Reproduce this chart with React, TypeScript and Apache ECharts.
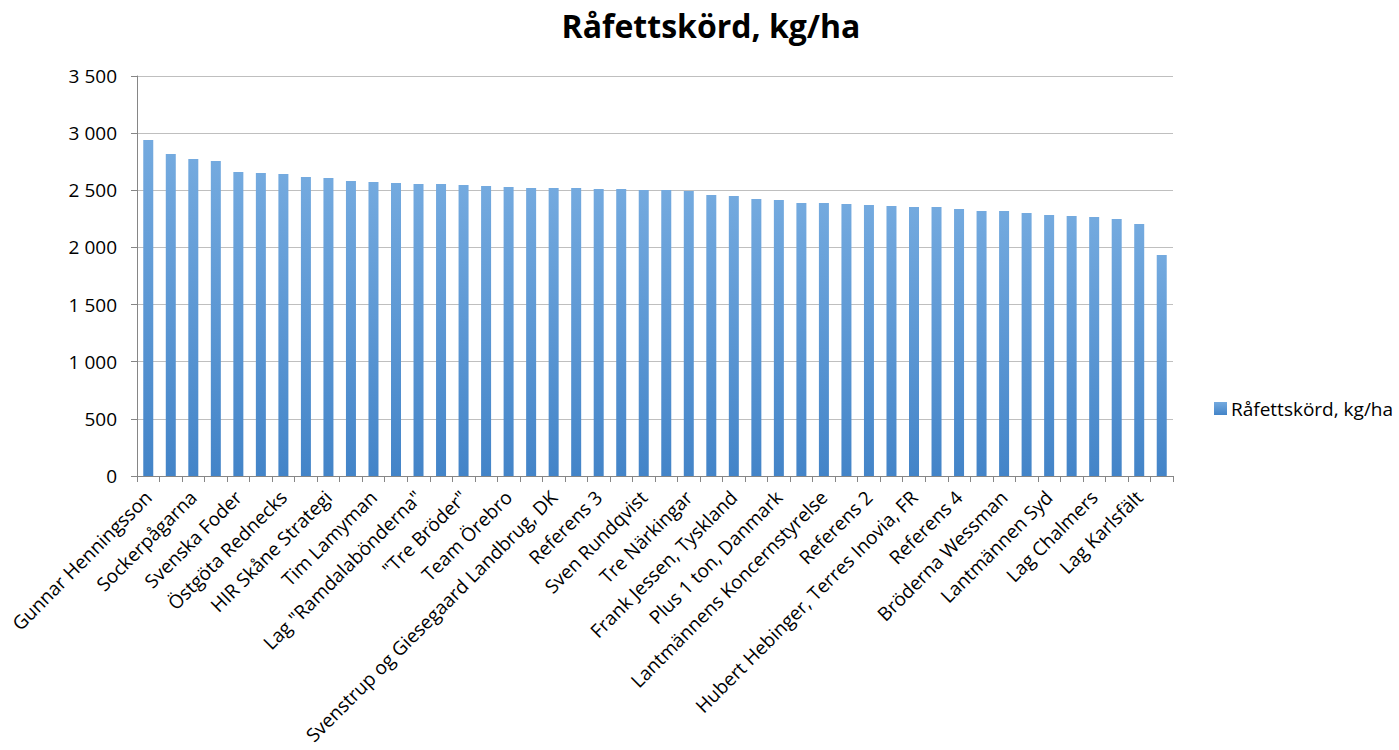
import React, { useEffect, useRef } from "react";
import * as echarts from "echarts";

const categories: string[] = [
  "Gunnar Henningsson", "",
  "Sockerpågarna", "",
  "Svenska Foder", "",
  "Östgöta Rednecks", "",
  "HIR Skåne Strategi", "",
  "Tim Lamyman", "",
  "Lag \"Ramdalabönderna\"", "",
  "\"Tre Bröder\"", "",
  "Team Örebro", "",
  "Svenstrup og Giesegaard Landbrug, DK", "",
  "Referens 3", "",
  "Sven Rundqvist", "",
  "Tre Närkingar", "",
  "Frank Jessen, Tyskland", "",
  "Plus 1 ton, Danmark", "",
  "Lantmännens Koncernstyrelse", "",
  "Referens 2", "",
  "Hubert Hebinger, Terres Inovia, FR", "",
  "Referens 4", "",
  "Bröderna Wessman", "",
  "Lantmännen Syd", "",
  "Lag Chalmers", "",
  "Lag Karlsfält", "",
];

const values: number[] = [
  2940, 2817, 2773, 2756, 2660, 2651, 2642, 2616, 2607, 2581,
  2572, 2563, 2555, 2555, 2546, 2537, 2528, 2520, 2520, 2520,
  2511, 2511, 2502, 2502, 2493, 2458, 2450, 2423, 2415, 2388,
  2388, 2380, 2371, 2362, 2353, 2353, 2336, 2318, 2318, 2301,
  2283, 2275, 2266, 2248, 2205, 1934,
];

const seriesName = "Råfettskörd, kg/ha";
const titleText = "Råfettskörd, kg/ha";
const yTicks = { min: 0, max: 3500, interval: 500 };

const fmt = (v: number) => {
  const s = String(Math.round(v));
  return s.replace(/\B(?=(\d{3})+(?!\d))/g, " ");
};

export default function App() {
  const ref = useRef<HTMLDivElement>(null);
  useEffect(() => {
    if (!ref.current) return;
    const chart = echarts.init(ref.current, null, { renderer: "svg" });
    const font = "'Open Sans', 'Noto Sans', sans-serif";
    chart.setOption({
      animation: false,
      backgroundColor: "#ffffff",
      textStyle: { fontFamily: font },
      title: {
        text: titleText,
        left: 706,
        textAlign: "center",
        top: 4,
        textStyle: { fontFamily: font, fontSize: 32, fontWeight: "bold", color: "#000" },
      },
      legend: {
        data: [seriesName],
        left: 1214,
        top: 399,
        orient: "vertical",
        padding: 0,
        itemWidth: 13,
        itemHeight: 13,
        itemGap: 5,
        icon: "rect",
        textStyle: { fontFamily: font, fontSize: 19, color: "#000", padding: [0, 0, 0, -1] },
      },
      grid: { left: 137, right: 226, top: 76, bottom: 274, containLabel: false },
      xAxis: {
        type: "category",
        data: categories,
        axisLine: { show: true, lineStyle: { color: "#868686", width: 1 } },
        axisTick: { show: true, interval: 0, length: 6, lineStyle: { color: "#868686" } },
        axisLabel: {
          interval: 1,
          rotate: 45,
          margin: 18,
          fontFamily: font,
          fontSize: 19,
          color: "#000",
        },
        splitLine: { show: false },
      },
      yAxis: {
        type: "value",
        min: yTicks.min,
        max: yTicks.max,
        interval: yTicks.interval,
        axisLine: { show: true, lineStyle: { color: "#868686", width: 1 } },
        axisTick: { show: true, length: 6, lineStyle: { color: "#868686" } },
        axisLabel: {
          margin: 20,
          fontFamily: font,
          fontSize: 19,
          color: "#000",
          formatter: (v: number) => fmt(v),
        },
        splitLine: { show: true, lineStyle: { color: "#bfbfbf", width: 1 } },
      },
      series: [
        {
          name: seriesName,
          type: "bar",
          data: values,
          barWidth: 10,
          itemStyle: {
            color: new echarts.graphic.LinearGradient(0, 0, 0, 1, [
              { offset: 0, color: "#74aadf" },
              { offset: 1, color: "#4384c8" },
            ]),
          },
        },
      ],
    });
    return () => chart.dispose();
  }, []);
  return (
    <div
      ref={ref}
      style={{ position: "fixed", left: 0, top: 0, width: 1399, height: 750 }}
    />
  );
}
